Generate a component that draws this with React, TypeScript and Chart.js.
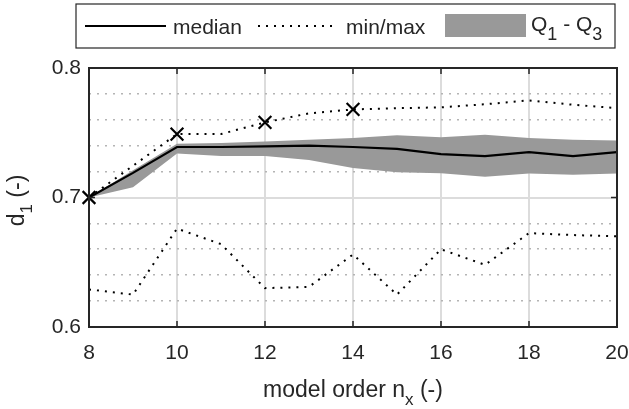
import React, { useEffect, useRef } from "react";
import { Chart, registerables } from "chart.js";

Chart.register(...registerables);

// ---- data ----
const modelOrder = [8, 9, 10, 11, 12, 13, 14, 15, 16, 17, 18, 19, 20];
const medianVals = [0.700, 0.719, 0.739, 0.739, 0.7395, 0.740, 0.739, 0.7375, 0.7335, 0.732, 0.735, 0.732, 0.735];
const q3Vals = [0.700, 0.721, 0.7415, 0.742, 0.7433, 0.7446, 0.746, 0.748, 0.7466, 0.7485, 0.746, 0.7446, 0.744];
const q1Vals = [0.700, 0.708, 0.734, 0.732, 0.732, 0.729, 0.7227, 0.7195, 0.7188, 0.716, 0.7185, 0.7175, 0.7185];
const maxVals = [0.700, 0.7245, 0.749, 0.749, 0.758, 0.765, 0.768, 0.769, 0.7696, 0.772, 0.775, 0.7716, 0.769];
const minVals = [0.629, 0.625, 0.676, 0.664, 0.630, 0.631, 0.656, 0.625, 0.660, 0.648, 0.6725, 0.671, 0.670];
const markerX = [8, 10, 12, 14];
const markerY = [0.700, 0.749, 0.758, 0.768];

const xTickLabels = ["8", "10", "12", "14", "16", "18", "20"];
const yTickLabels = ["0.6", "0.7", "0.8"];

const FONT = "'Liberation Sans', Arial, Helvetica, sans-serif";
const DARK = "#262626";
const BAND = "#999999";

const pts = (ys: number[]) => modelOrder.map((x, i) => ({ x, y: ys[i] }));

const isMajorY = (v: number) => Math.abs(v * 10 - Math.round(v * 10)) < 1e-6;

type Part = { t: string; sub?: boolean };

function drawRich(
  ctx: CanvasRenderingContext2D,
  parts: Part[],
  x: number,
  y: number,
  size: number,
  subSize: number,
  subOff: number,
  align: "left" | "center"
) {
  const widths = parts.map((p) => {
    ctx.font = `${p.sub ? subSize : size}px ${FONT}`;
    return ctx.measureText(p.t).width;
  });
  const total = widths.reduce((a, b) => a + b, 0);
  let cx = align === "center" ? x - total / 2 : x;
  ctx.textAlign = "left";
  ctx.textBaseline = "alphabetic";
  parts.forEach((p, i) => {
    ctx.font = `${p.sub ? subSize : size}px ${FONT}`;
    ctx.fillText(p.t, cx, p.sub ? y + subOff : y);
    cx += widths[i];
  });
}

const decorPlugin = {
  id: "decor",
  afterDraw(chart: any) {
    const ctx: CanvasRenderingContext2D = chart.ctx;
    const { left, right, top, bottom } = chart.chartArea;
    const xs = chart.scales.x;
    const ys = chart.scales.y;
    ctx.save();
    // frame
    ctx.strokeStyle = DARK;
    ctx.lineWidth = 2;
    ctx.strokeRect(left, top, right - left, bottom - top);
    // inward tick marks
    ctx.lineWidth = 1.5;
    ctx.beginPath();
    xs.ticks.forEach((t: any) => {
      const px = xs.getPixelForValue(t.value);
      ctx.moveTo(px, bottom);
      ctx.lineTo(px, bottom - 6);
      ctx.moveTo(px, top);
      ctx.lineTo(px, top + 6);
    });
    ys.ticks.forEach((t: any) => {
      if (!isMajorY(t.value)) return;
      const py = ys.getPixelForValue(t.value);
      ctx.moveTo(left, py);
      ctx.lineTo(left + 6, py);
      ctx.moveTo(right, py);
      ctx.lineTo(right - 6, py);
    });
    ctx.stroke();

    // axis titles
    ctx.fillStyle = DARK;
    drawRich(
      ctx,
      [{ t: "model order n" }, { t: "x", sub: true }, { t: " (-)" }],
      (left + right) / 2,
      397,
      23,
      17,
      8,
      "center"
    );
    ctx.save();
    ctx.translate(24, (top + bottom) / 2 + 3);
    ctx.rotate(-Math.PI / 2);
    drawRich(ctx, [{ t: "d" }, { t: "1", sub: true }, { t: " (-)" }], 0, 0, 23, 17, 8, "center");
    ctx.restore();

    // legend box
    ctx.fillStyle = "#ffffff";
    ctx.fillRect(76, 4, 539, 44);
    ctx.strokeStyle = DARK;
    ctx.lineWidth = 1.2;
    ctx.strokeRect(76, 4, 539, 44);
    // median
    ctx.strokeStyle = "#000";
    ctx.lineWidth = 2;
    ctx.setLineDash([]);
    ctx.beginPath();
    ctx.moveTo(85, 26);
    ctx.lineTo(166, 26);
    ctx.stroke();
    ctx.fillStyle = DARK;
    ctx.font = `21px ${FONT}`;
    ctx.textAlign = "left";
    ctx.textBaseline = "alphabetic";
    ctx.fillText("median", 173, 34);
    // min/max
    ctx.setLineDash([2, 6]);
    ctx.beginPath();
    ctx.moveTo(258, 26);
    ctx.lineTo(337, 26);
    ctx.stroke();
    ctx.setLineDash([]);
    ctx.fillText("min/max", 346, 34);
    // band
    ctx.fillStyle = BAND;
    ctx.fillRect(445, 14, 81, 23);
    ctx.fillStyle = DARK;
    drawRich(
      ctx,
      [{ t: "Q" }, { t: "1", sub: true }, { t: " - Q" }, { t: "3", sub: true }],
      531,
      31,
      21,
      18,
      9,
      "left"
    );
    ctx.restore();
  },
};

export default function App() {
  const ref = useRef<HTMLCanvasElement | null>(null);
  useEffect(() => {
    if (!ref.current) return;
    const chart = new Chart(ref.current, {
      type: "line",
      data: {
        datasets: [
          {
            label: "Q3",
            data: pts(q3Vals),
            borderWidth: 0,
            borderColor: BAND,
            backgroundColor: BAND,
            pointRadius: 0,
            fill: "+1",
            order: 5,
          },
          {
            label: "Q1",
            data: pts(q1Vals),
            borderWidth: 0,
            borderColor: BAND,
            backgroundColor: BAND,
            pointRadius: 0,
            fill: false,
            order: 4,
          },
          {
            label: "median",
            data: pts(medianVals),
            borderColor: "#000",
            borderWidth: 2.2,
            pointRadius: 0,
            fill: false,
            order: 3,
          },
          {
            label: "max",
            data: pts(maxVals),
            borderColor: "#000",
            borderWidth: 2,
            borderDash: [2, 6],
            pointRadius: 0,
            fill: false,
            order: 2,
          },
          {
            label: "min",
            data: pts(minVals),
            borderColor: "#000",
            borderWidth: 2,
            borderDash: [2, 6],
            pointRadius: 0,
            fill: false,
            order: 2,
          },
          {
            label: "markers",
            data: markerX.map((x, i) => ({ x, y: markerY[i] })),
            showLine: false,
            pointStyle: "crossRot",
            pointRadius: 9,
            pointBorderWidth: 2.2,
            pointBorderColor: "#000",
            borderColor: "#000",
            fill: false,
            clip: false,
            order: 1,
          },
        ],
      },
      options: {
        responsive: false,
        animation: false,
        events: [],
        layout: { padding: { left: 0, right: 12, top: 68, bottom: 0 } },
        plugins: { legend: { display: false }, tooltip: { enabled: false } },
        scales: {
          x: {
            type: "linear",
            min: 8,
            max: 20,
            afterFit: (s: any) => {
              s.height = 82;
              s.paddingLeft = 0;
              s.paddingRight = 0;
            },
            ticks: {
              stepSize: 2,
              autoSkip: false,
              maxRotation: 0,
              padding: 14,
              color: DARK,
              font: { family: FONT, size: 21 },
              callback: (v: any, i: number) => xTickLabels[i] ?? String(v),
            },
            grid: { color: "#dcdcdc", lineWidth: 2, drawTicks: false },
            border: { display: false },
          },
          y: {
            type: "linear",
            min: 0.6,
            max: 0.8,
            afterFit: (s: any) => {
              s.width = 89;
              s.paddingTop = 0;
              s.paddingBottom = 0;
            },
            ticks: {
              stepSize: 0.02,
              autoSkip: false,
              padding: 8,
              color: DARK,
              font: { family: FONT, size: 21 },
              callback: (v: any) => {
                const n = Number(v);
                if (!isMajorY(n)) return "";
                const lbl = yTickLabels.find((l) => Math.abs(parseFloat(l) - n) < 1e-6);
                return lbl ?? "";
              },
            },
            grid: {
              drawTicks: false,
              color: (c: any) => (c.tick && isMajorY(c.tick.value) ? "#dcdcdc" : "#b4b4b4"),
              lineWidth: (c: any) => (c.tick && isMajorY(c.tick.value) ? 2 : 1.6),
            },
            border: {
              display: false,
              dash: (c: any) => (c.tick && !isMajorY(c.tick.value) ? [2, 6] : []),
            },
          },
        },
      },
      plugins: [decorPlugin],
    } as any);
    return () => chart.destroy();
  }, []);
  return (
    <div style={{ position: "fixed", left: 0, top: 0, width: 629, height: 409, background: "#fff" }}>
      <canvas ref={ref} width={629} height={409} style={{ width: 629, height: 409, display: "block" }} />
    </div>
  );
}
